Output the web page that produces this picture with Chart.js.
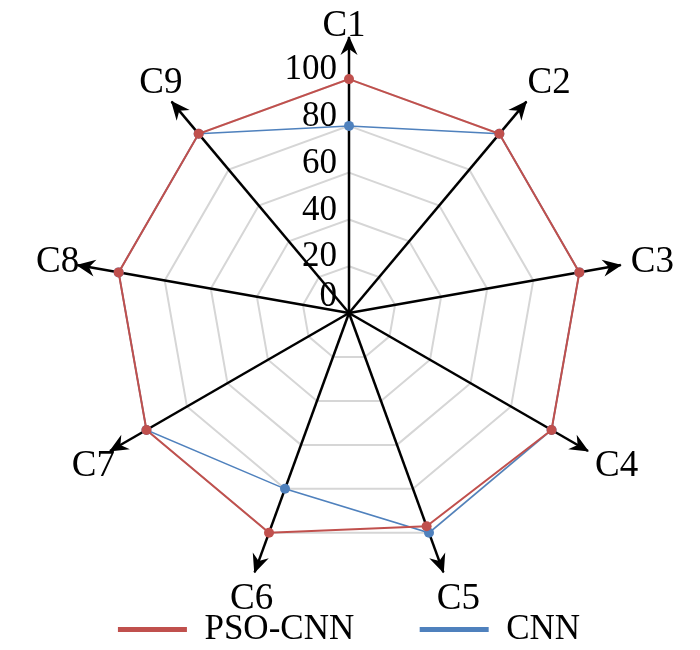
<!DOCTYPE html>
<html>
<head>
<meta charset="utf-8">
<script src="https://cdn.jsdelivr.net/npm/chart.js@4.4.1/dist/chart.umd.min.js"></script>
<style>
  html, body { margin: 0; padding: 0; background: #fff; overflow: hidden; }
  #wrap { width: 700px; height: 650px; }
</style>
</head>
<body>
<div id="wrap"><canvas id="myChart"></canvas></div>
<script>
const categories = ['C1', 'C2', 'C3', 'C4', 'C5', 'C6', 'C7', 'C8', 'C9'];
const psoCnnValues = [100, 100, 100, 100, 97, 100, 100, 100, 100];
const cnnValues = [80, 100, 100, 100, 100, 80, 100, 100, 100];
const tickValues = [0, 20, 40, 60, 80, 100];
const axisMax = 118; // arrows run a bit past 100

const RED = '#c0504d';
const BLUE = '#4f81bd';
const SERIF = '"Liberation Serif", "Times New Roman", serif';

Chart.defaults.font.family = SERIF;
Chart.defaults.color = '#000';

// arrow heads, axis names and the tick numbers along C1
const axisDecor = {
  id: 'axisDecor',
  afterDatasetsDraw(chart) {
    const scale = chart.scales.r;
    const ctx = chart.ctx;
    ctx.save();
    ctx.fillStyle = '#000';
    ctx.textAlign = 'center';
    ctx.textBaseline = 'middle';
    ctx.font = '37px ' + SERIF;
    categories.forEach((name, i) => {
      const tip = scale.getPointPosition(i, scale.drawingArea);
      ctx.save();
      ctx.translate(tip.x, tip.y);
      ctx.rotate(tip.angle);
      ctx.beginPath();
      ctx.moveTo(1, 0);
      ctx.lineTo(-18, -8.5);
      ctx.lineTo(-12, 0);
      ctx.lineTo(-18, 8.5);
      ctx.closePath();
      ctx.fill();
      ctx.restore();

      // top label sits closer to its arrow, the others a bit to the right
      const lp = scale.getPointPosition(i, scale.drawingArea + (i === 0 ? 13 : 26));
      ctx.fillText(name, lp.x + (i === 0 ? -5 : 6), lp.y + 2);
    });

    ctx.font = '35px ' + SERIF;
    ctx.textAlign = 'right';
    tickValues.forEach(v => {
      const d = scale.getDistanceFromCenterForValue(v);
      const lift = v === 0 ? 16 : 9;
      ctx.fillText(String(v), scale.xCenter - 12, scale.yCenter - d - lift);
    });
    ctx.restore();
  }
};

const ctx = document.getElementById('myChart').getContext('2d');

new Chart(ctx, {
  type: 'radar',
  data: {
    labels: categories,
    datasets: [
      {
        label: 'PSO-CNN',
        data: psoCnnValues,
        borderColor: RED,
        backgroundColor: RED,
        pointBackgroundColor: RED,
        borderWidth: 2,
        pointRadius: 5,
        pointBorderWidth: 0,
        fill: false
      },
      {
        label: 'CNN',
        data: cnnValues,
        borderColor: BLUE,
        backgroundColor: BLUE,
        pointBackgroundColor: BLUE,
        borderWidth: 1.5,
        pointRadius: 5,
        pointBorderWidth: 0,
        fill: false
      }
    ]
  },
  options: {
    responsive: true,
    maintainAspectRatio: false,
    animation: false,
    layout: {
      padding: { left: 73, right: 75, top: 27, bottom: -7 }
    },
    scales: {
      r: {
        min: 0,
        max: axisMax,
        ticks: { display: false, stepSize: 20, includeBounds: false },
        pointLabels: { display: false },
        grid: { color: '#d6d6d6', lineWidth: 2 },
        angleLines: { color: '#000', lineWidth: 2.5 }
      }
    },
    plugins: {
      tooltip: { enabled: false },
      legend: {
        position: 'bottom',
        labels: {
          boxWidth: 69,
          boxHeight: 5,
          padding: 13,
          font: { size: 35 },
          color: '#000',
          generateLabels(chart) {
            const items = Chart.defaults.plugins.legend.labels.generateLabels(chart);
            items.forEach((item, i) => {
              const ds = chart.data.datasets[i];
              item.fillStyle = ds.borderColor;
              item.lineWidth = 0;
              if (i === 0) item.text = ds.label + '\u2003\u2002';
            });
            return items;
          }
        }
      }
    }
  },
  plugins: [axisDecor]
});
</script>
</body>
</html>
